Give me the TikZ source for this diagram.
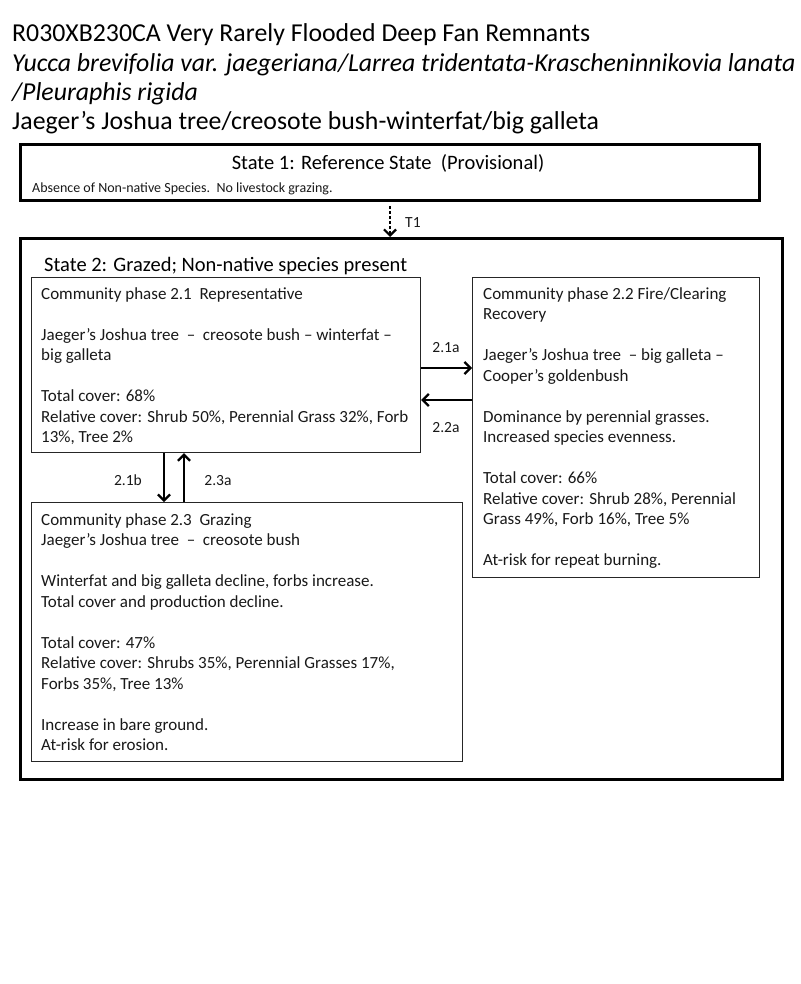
\documentclass[tikz,border=0pt]{standalone}
\usepackage{fontspec}
\setmainfont{Carlito}
\usetikzlibrary{arrows.meta}
\tikzset{
  x=1pt, y=-1pt,
  statebox/.style={draw=black, line width=3pt, inner sep=0pt, fill=none},
  phasebox/.style={draw=black!85, line width=1.2pt, inner sep=0pt, fill=none},
  txt/.style={inner sep=0pt, anchor=base west, font=\fontsize{17}{20}\selectfont, text=black!90},
  ttl/.style={inner sep=0pt, anchor=base west, font=\fontsize{25.8}{29}\selectfont, text=black},
  sttl/.style={inner sep=0pt, font=\fontsize{20.5}{24}\selectfont, text=black},
  lbl/.style={inner sep=0pt, anchor=base, font=\fontsize{15.5}{18}\selectfont, text=black!90},
  arr/.style={line width=1.2pt, draw=black, -{Straight Barb[length=6pt,width=12pt,line width=2.2pt]}},
}
\newcommand\tl[4]{\node[txt] (#1) at (#2,#3) {#4};}
\begin{document}
\begin{tikzpicture}
\useasboundingbox[fill=white] (0,0) rectangle (800,984);
% titles
\node[ttl] (t1) at (12,42) {R030XB230CA Very Rarely Flooded Deep Fan Remnants};
\node[ttl] (t2) at (12,72) {\itshape Yucca brevifolia var. jaegeriana/Larrea tridentata-Krascheninnikovia lanata};
\node[ttl] (t3) at (12,101) {\itshape /Pleuraphis rigida};
\node[ttl] (t4) at (12,130) {Jaeger’s Joshua tree/creosote bush-winterfat/big galleta};
% state 1
\node[statebox, minimum width=739pt, minimum height=56pt, anchor=north west] (s1) at (19,143) {};
\node[sttl, anchor=base] (s1t) at (388,169.5) {State 1: Reference State\ \ (Provisional)};
\node[inner sep=0pt, anchor=base west, font=\fontsize{14}{17}\selectfont, text=black!90] (s1s) at (32,192.5) {Absence of Non-native Species.\ \ No livestock grazing.};
% state 2
\node[statebox, minimum width=762pt, minimum height=541pt, anchor=north west] (s2) at (19,237) {};
\node[sttl, anchor=base west] (s2t) at (44,271.5) {State 2: Grazed; Non-native species present};
% T1
\coordinate (tx) at (390,0);
\coordinate (ty) at (0,206);
\draw[arr, dash pattern=on 3pt off 2pt] (tx |- ty) -- (s2.north -| tx);
\node[lbl, anchor=base west] (T1) at (405,228) {T1};
% phase boxes
\node[phasebox, minimum width=389pt, minimum height=175pt, anchor=north west] (p21) at (31,277) {};
\node[phasebox, minimum width=287pt, minimum height=300pt, anchor=north west] (p22) at (472,277) {};
\node[phasebox, minimum width=431pt, minimum height=259pt, anchor=north west] (p23) at (31,502) {};
% box 2.1 text
\tl{a0}{41}{299}{Community phase 2.1\ \ Representative}
\tl{a2}{41}{340}{Jaeger’s Joshua tree\ \ –\ \ creosote bush – winterfat –}
\tl{a3}{41}{360.5}{big galleta}
\tl{a5}{41}{401.5}{Total cover: 68\%}
\tl{a6}{41}{422}{Relative cover: Shrub 50\%, Perennial Grass 32\%, Forb}
\tl{a7}{41}{442.5}{13\%, Tree 2\%}
% box 2.2 text
\tl{b0}{483}{299}{Community phase 2.2 Fire/Clearing}
\tl{b1}{483}{319.5}{Recovery}
\tl{b3}{483}{360.5}{Jaeger’s Joshua tree\ \ – big galleta –}
\tl{b4}{483}{381}{Cooper’s goldenbush}
\tl{b6}{483}{422}{Dominance by perennial grasses.}
\tl{b7}{483}{442.5}{Increased species evenness.}
\tl{b9}{483}{483.5}{Total cover: 66\%}
\tl{b10}{483}{504}{Relative cover: Shrub 28\%, Perennial}
\tl{b11}{483}{524.5}{Grass 49\%, Forb 16\%, Tree 5\%}
\tl{b13}{483}{565.5}{At-risk for repeat burning.}
% box 2.3 text
\tl{c0}{41}{525}{Community phase 2.3\ \ Grazing}
\tl{c1}{41}{545.5}{Jaeger’s Joshua tree\ \ –\ \ creosote bush}
\tl{c3}{41}{586.5}{Winterfat and big galleta decline, forbs increase.}
\tl{c4}{41}{607}{Total cover and production decline.}
\tl{c6}{41}{648}{Total cover: 47\%}
\tl{c7}{41}{668.5}{Relative cover: Shrubs 35\%, Perennial Grasses 17\%,}
\tl{c8}{41}{689}{Forbs 35\%, Tree 13\%}
\tl{c10}{41}{730}{Increase in bare ground.}
\tl{c11}{41}{750.5}{At-risk for erosion.}
% transitions
\coordinate (ya) at (0,368);
\coordinate (yb) at (0,400);
\coordinate (xb) at (164,0);
\coordinate (xc) at (184,0);
\draw[arr] (p21.east |- ya) -- (p22.west |- ya);
\draw[arr] (p22.west |- yb) -- (p21.east |- yb);
\draw[arr] (p21.south -| xb) -- (p23.north -| xb);
\draw[arr] (p23.north -| xc) -- (p21.south -| xc);
\node[lbl] (l21a) at (446,352) {2.1a};
\node[lbl] (l22a) at (446,432) {2.2a};
\node[lbl] (l21b) at (128,485) {2.1b};
\node[lbl] (l23a) at (218,485) {2.3a};
\end{tikzpicture}
\end{document}
